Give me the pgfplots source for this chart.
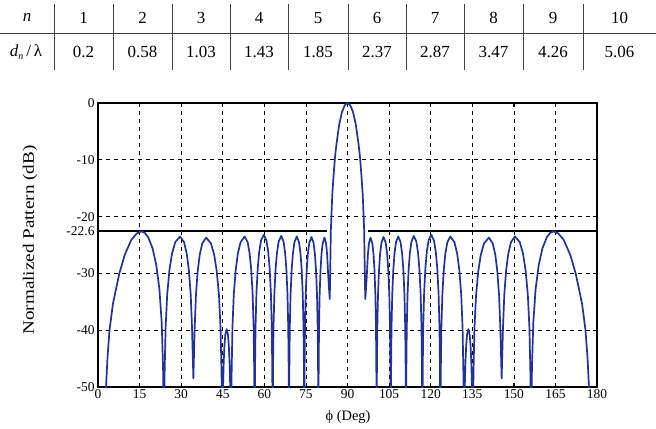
\documentclass[border=0pt]{standalone}
\usepackage{fontspec}
\setmainfont{Liberation Serif}
\usepackage{pgfplots}
\pgfplotsset{compat=1.18}
\definecolor{pat}{RGB}{33,51,150}
\begin{document}
\begin{tikzpicture}[x=1bp,y=1bp]
\useasboundingbox (0,0) rectangle (656,428);
% table
\draw[line width=0.8bp, black!75] (0,394.7) -- (656,394.7);
\foreach \xx in {54,113,172,230,288,348,406,464,523,583}
  \draw[line width=0.8bp,black!75] (\xx,424) -- (\xx,358);
\node[font=\fontsize{17}{20}\selectfont\itshape] at (27,410) {n};
\node[font=\fontsize{17}{20}\selectfont] at (26,376) {\textit{d}\raisebox{-0.4ex}{\fontsize{10}{11}\selectfont\itshape n}\,/\,λ};
\foreach \xx/\lab/\val in {83.5/1/0.2,142.5/2/0.58,201/3/1.03,259/4/1.43,318/5/1.85,377/6/2.37,435/7/2.87,493.5/8/3.47,553/9/4.26,619.5/10/5.06}{
  \node[font=\fontsize{17}{20}\selectfont] at (\xx,410) {\lab};
  \node[font=\fontsize{17}{20}\selectfont] at (\xx,376) {\val};
}
% axis labels
\node[font=\fontsize{14.5}{16}\selectfont] at (348,11) {\symbol{"03D5} (Deg)};
\node[font=\fontsize{16}{18}\selectfont, rotate=90] at (30,188) {\scalebox{1.2}[1]{Normalized Pattern (dB)}};
\begin{axis}[
  at={(98bp,41bp)}, anchor=south west, scale only axis, width=499bp, height=284bp,
  xmin=0, xmax=180, ymin=-50, ymax=0,
  xtick={0,15,...,180},
  ytick={-50,-40,-30,-20,-10,0},
  yticklabels={-50,-40,-30,-20,-10,0},
  extra y ticks={-22.6}, extra y tick labels={-22.6},
  extra y tick style={grid=none},
  xmajorgrids, ymajorgrids,
  grid style={black, line width=0.6bp, dash pattern=on 4bp off 4bp},
  tick align=inside, major tick length=4bp,
  tick style={black, line width=0.8bp},
  axis line style={line width=1.2bp},
  ticklabel style={font=\fontsize{13.5}{14}\selectfont},
  xticklabel style={yshift=1bp},
  /pgf/number format/assume math mode=true,
  clip=true,
]
\addplot[black, line width=1.8bp] coordinates {(0,-22.6) (82.7,-22.6)};
\addplot[black, line width=1.8bp] coordinates {(97.5,-22.6) (180,-22.6)};
\addplot[pat, line width=1.7bp, line join=round] coordinates {
(2.7,-55) (2.9,-50) (3.4,-45) (4.15,-40) (5.4,-35.3) (7.7,-30) (9.6,-26.8) (12.0,-24.1) (13.9,-23.0) (15.6,-22.6) (16.83,-22.85) (18.06,-23.6) (19.7,-25.6) (21.01,-28.5) (22.16,-32.8) (22.98,-38.7) (23.47,-46.6) (23.8,-60)
(24.03,-47.5) (24.38,-39.6) (24.96,-33.7) (25.77,-29.4) (26.7,-26.5) (27.86,-24.5) (29.6,-23.5) (31.04,-24.5) (32.0,-26.5) (32.77,-29.4) (33.44,-33.7) (33.92,-39.6) (34.4,-48.5)
(34.86,-39.8) (35.32,-33.9) (35.96,-29.6) (36.7,-26.7) (37.62,-24.7) (39.0,-23.7) (40.74,-24.7) (41.9,-26.7) (42.83,-29.6) (43.64,-33.9) (44.22,-39.8) (44.57,-47.7) (44.8,-60)
(45.1,-50) (45.34,-45.7) (45.6,-42.8) (45.92,-40.8) (46.4,-39.8) (46.88,-40.8) (47.2,-42.8) (47.46,-45.7) (47.7,-50) (48.0,-60)
(48.2,-47.5) (48.49,-39.6) (48.98,-33.7) (49.67,-29.4) (50.45,-26.5) (51.43,-24.5) (52.9,-23.5) (53.98,-24.5) (54.7,-26.5) (55.28,-29.4) (55.78,-33.7) (56.14,-39.6) (56.36,-47.5) (56.5,-60)
(56.63,-47.2) (56.83,-39.3) (57.16,-33.4) (57.62,-29.1) (58.15,-26.2) (58.81,-24.2) (59.8,-23.2) (60.76,-24.2) (61.4,-26.2) (61.91,-29.1) (62.36,-33.4) (62.68,-39.3) (62.87,-47.2) (63.0,-60)
(63.12,-47.4) (63.31,-39.5) (63.62,-33.6) (64.05,-29.3) (64.55,-26.4) (65.17,-24.4) (66.1,-23.4) (66.94,-24.4) (67.5,-26.4) (67.95,-29.3) (68.34,-33.6) (68.62,-39.5) (68.79,-47.4) (68.9,-60)
(69.01,-47.5) (69.18,-39.6) (69.46,-33.7) (69.85,-29.4) (70.3,-26.5) (70.86,-24.5) (71.7,-23.5) (72.51,-24.5) (73.05,-26.5) (73.48,-29.4) (73.86,-33.7) (74.13,-39.6) (74.29,-47.5) (74.4,-60)
(74.5,-47.6) (74.66,-39.7) (74.92,-33.8) (75.28,-29.5) (75.7,-26.6) (76.22,-24.6) (77.0,-23.6) (77.75,-24.6) (78.25,-26.6) (78.65,-29.5) (79.0,-33.8) (79.25,-39.7) (79.4,-47.6) (79.5,-60)
(79.59,-47.7) (79.72,-39.8) (79.94,-33.9) (80.25,-29.6) (80.6,-26.7) (81.04,-24.7) (81.7,-23.7) (82.27,-24.7) (82.65,-26.7) (82.95,-29.6) (83.3,-32.5) (83.6,-34.5)
(84.0,-22.3) (84.5,-16.2) (85.0,-12.6) (85.5,-9.5) (86.0,-7.3) (87.0,-3.8) (88.0,-1.6) (89.0,-0.4) (90.0,0)
(91,-0.4) (92,-1.6) (93,-3.8) (94,-7.3) (94.5,-9.5) (95,-12.6) (95.5,-16.2) (96,-22.3) (96.4,-34.5)
(96.7,-32.5) (97.05,-29.6) (97.35,-26.7) (97.73,-24.7) (98.3,-23.7) (98.96,-24.7) (99.4,-26.7) (99.75,-29.6) (100.06,-33.9) (100.28,-39.8) (100.41,-47.7) (100.5,-60)
(100.6,-47.6) (100.75,-39.7) (101.0,-33.8) (101.35,-29.5) (101.75,-26.6) (102.25,-24.6) (103.0,-23.6) (103.78,-24.6) (104.3,-26.6) (104.72,-29.5) (105.08,-33.8) (105.34,-39.7) (105.5,-47.6) (105.6,-60)
(105.71,-47.5) (105.87,-39.6) (106.14,-33.7) (106.52,-29.4) (106.95,-26.5) (107.49,-24.5) (108.3,-23.5) (109.14,-24.5) (109.7,-26.5) (110.15,-29.4) (110.54,-33.7) (110.82,-39.6) (110.99,-47.5) (111.1,-60)
(111.21,-47.4) (111.38,-39.5) (111.66,-33.6) (112.05,-29.3) (112.5,-26.4) (113.06,-24.4) (113.9,-23.4) (114.83,-24.4) (115.45,-26.4) (115.95,-29.3) (116.38,-33.6) (116.69,-39.5) (116.88,-47.4) (117.0,-60)
(117.13,-47.2) (117.32,-39.3) (117.64,-33.4) (118.09,-29.1) (118.6,-26.2) (119.24,-24.2) (120.2,-23.2) (121.19,-24.2) (121.85,-26.2) (122.38,-29.1) (122.84,-33.4) (123.17,-39.3) (123.37,-47.2) (123.5,-60)
(123.64,-47.5) (123.86,-39.6) (124.22,-33.7) (124.72,-29.4) (125.3,-26.5) (126.02,-24.5) (127.1,-23.5) (128.57,-24.5) (129.55,-26.5) (130.33,-29.4) (131.02,-33.7) (131.51,-39.6) (131.8,-47.5) (132.0,-60)
(132.3,-50) (132.54,-45.7) (132.8,-42.8) (133.12,-40.8) (133.6,-39.8) (134.08,-40.8) (134.4,-42.8) (134.66,-45.7) (134.9,-50) (135.2,-60)
(135.43,-47.7) (135.78,-39.8) (136.36,-33.9) (137.17,-29.6) (138.1,-26.7) (139.26,-24.7) (141.0,-23.7) (142.38,-24.7) (143.3,-26.7) (144.04,-29.6) (144.68,-33.9) (145.14,-39.8) (145.6,-48.5)
(146.08,-39.6) (146.56,-33.7) (147.23,-29.4) (148.0,-26.5) (148.96,-24.5) (150.4,-23.5) (152.14,-24.5) (153.3,-26.5) (154.23,-29.4) (155.04,-33.7) (155.62,-39.6) (155.97,-47.5) (156.2,-60)
(156.53,-46.6) (157.02,-38.7) (157.84,-32.8) (158.99,-28.5) (160.3,-25.6) (161.94,-23.6) (163.17,-22.85) (164.4,-22.6) (166.1,-23.0) (168.0,-24.1) (170.4,-26.8) (172.3,-30) (174.6,-35.3) (175.85,-40) (176.6,-45) (177.1,-50) (177.3,-55)
};
\end{axis}
\end{tikzpicture}
\end{document}
